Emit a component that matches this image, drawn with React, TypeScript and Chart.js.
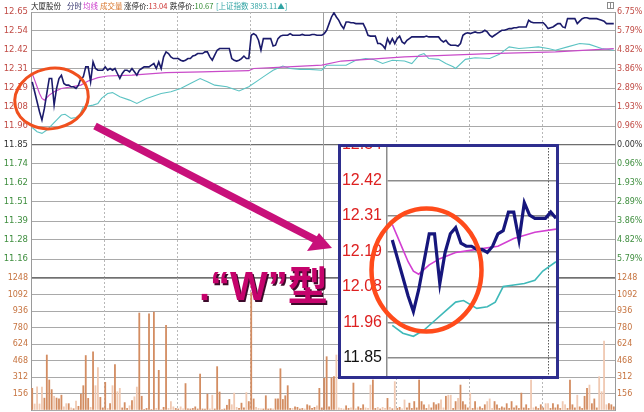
import React, { useEffect, useRef } from 'react';
import { Chart, registerables } from 'chart.js';

Chart.register(...registerables);

// ---------- data ----------
const prevClose = 11.85;
const pctTicks = [6.75, 5.79, 4.82, 3.86, 2.89, 1.93, 0.96, 0, -0.96, -1.93, -2.89, -3.86, -4.82, -5.79, -6.75];
const volumeTicks = [0, 156, 312, 468, 624, 780, 936, 1092, 1248];
const timeGrid = [30, 60, 90, 120, 150, 180, 210];

const price = [
  12.23, 12.17, 12.11, 12.05, 12.0, 12.07, 12.16, 12.25, 12.25, 12.09,
  12.19, 12.25, 12.27, 12.22, 12.21, 12.21, 12.2, 12.2, 12.19, 12.21,
  12.25, 12.26, 12.32, 12.32, 12.23, 12.35, 12.31, 12.3, 12.3, 12.3,
  12.32, 12.3, 12.31, 12.3, 12.31, 12.28, 12.25, 12.28, 12.3, 12.3,
  12.29, 12.31, 12.29, 12.27, 12.3, 12.31, 12.32, 12.32, 12.32, 12.33,
  12.34, 12.31, 12.35, 12.31, 12.38, 12.41, 12.4, 12.38, 12.37, 12.37,
  12.37, 12.36, 12.355, 12.36, 12.37, 12.37, 12.385, 12.39, 12.4, 12.4,
  12.4, 12.41, 12.41, 12.38, 12.36, 12.39, 12.42, 12.43, 12.43, 12.43,
  12.43, 12.43, 12.37, 12.36, 12.355, 12.36, 12.37, 12.385, 12.37, 12.37,
  12.51, 12.52, 12.51, 12.48, 12.42, 12.49, 12.49, 12.49, 12.49, 12.445,
  12.45, 12.49, 12.505, 12.51, 12.51, 12.51, 12.52, 12.51, 12.51, 12.51,
  12.51, 12.515, 12.51, 12.51, 12.51, 12.515, 12.515, 12.51, 12.51, 12.51,
  12.52, 12.54, 12.58, 12.62, 12.645, 12.62, 12.6, 12.57, 12.55, 12.59,
  12.59, 12.585, 12.585, 12.58, 12.58, 12.58, 12.58, 12.55, 12.51, 12.505,
  12.505, 12.505, 12.46, 12.46, 12.45, 12.43, 12.49, 12.46, 12.49, 12.46,
  12.49, 12.505, 12.47, 12.46, 12.48, 12.49, 12.5, 12.5, 12.5, 12.5,
  12.5, 12.5, 12.505, 12.5, 12.5, 12.5, 12.5, 12.5, 12.48, 12.47,
  12.48, 12.46, 12.45, 12.45, 12.45, 12.445, 12.46, 12.51, 12.52, 12.525,
  12.52, 12.525, 12.53, 12.525, 12.525, 12.53, 12.54, 12.53, 12.51, 12.5,
  12.51, 12.52, 12.53, 12.54, 12.54, 12.545, 12.55, 12.55, 12.555, 12.555,
  12.56, 12.56, 12.56, 12.56, 12.6, 12.59, 12.585, 12.585, 12.585, 12.585,
  12.585, 12.57, 12.55, 12.555, 12.56, 12.57, 12.58, 12.58, 12.56, 12.555,
  12.61, 12.61, 12.61, 12.61, 12.58, 12.595, 12.61, 12.615, 12.615, 12.61,
  12.61, 12.61, 12.61, 12.605, 12.6, 12.595, 12.58, 12.58, 12.58, 12.58,
];

const volume = [
  205, 57, 220, 57, 217, 112, 520, 284, 193, 130,
  113, 105, 140, 30, 60, 60, 20, 12, 85, 35,
  150, 230, 515, 110, 25, 550, 230, 400, 120, 20,
  262, 15, 60, 230, 430, 173, 205, 20, 70, 15,
  40, 90, 125, 217, 917, 130, 5, 15, 910, 5,
  925, 15, 375, 5, 25, 800, 15, 80, 30, 15,
  10, 30, 10, 250, 10, 10, 15, 30, 10, 340,
  10, 8, 150, 10, 140, 10, 410, 170, 5, 10,
  45, 100, 50, 160, 25, 15, 65, 20, 165, 80,
  1110, 105, 25, 15, 10, 10, 135, 10, 12, 10,
  105, 105, 390, 100, 135, 230, 15, 15, 30, 25,
  10, 15, 10, 50, 40, 15, 25, 40, 205, 20,
  300, 504, 30, 303, 315, 520, 20, 15, 10, 40,
  15, 20, 255, 12, 30, 15, 50, 20, 15, 236,
  284, 15, 25, 10, 25, 15, 110, 25, 12, 268,
  15, 25, 10, 95, 20, 65, 15, 80, 20, 284,
  80, 50, 15, 50, 20, 70, 50, 60, 95, 20,
  130, 140, 140, 15, 80, 110, 236, 80, 50, 20,
  160, 15, 80, 20, 30, 15, 50, 80, 105, 15,
  80, 50, 15, 30, 20, 60, 15, 80, 20, 40,
  15, 160, 20, 50, 15, 284, 20, 30, 15, 50,
  20, 60, 60, 15, 60, 20, 50, 15, 80, 50,
  15, 284, 50, 20, 140, 30, 15, 130, 205, 236,
  60, 105, 20, 315, 173, 652, 50, 60, 50, 30,
];

const avgTimes = [0, 1, 2, 3, 4, 5, 7, 9, 12, 16, 20, 23, 27, 31, 41, 55, 70, 89, 91, 105, 119, 127, 153, 188, 215, 239];
const avgValues = [12.28, 12.24, 12.2, 12.16, 12.13, 12.12, 12.15, 12.17, 12.19, 12.2, 12.21, 12.235, 12.255, 12.265, 12.27, 12.285, 12.29, 12.297, 12.31, 12.32, 12.33, 12.355, 12.38, 12.4, 12.41, 12.43];

const indexTimes = [
  0, 2, 4, 6, 8, 10, 12, 13.5, 16, 18, 19.5, 21, 23, 25, 27, 28.5, 31, 33, 36, 40,
  43, 47, 50, 53, 57, 61, 65, 69, 72, 75, 80, 85, 89, 93, 96, 99, 103, 106, 110, 114,
  119, 121, 126, 129, 133, 137, 140, 144, 148, 153, 156, 159, 161, 163, 167, 170, 173, 174, 178, 182,
  188, 192, 196, 200, 204, 208, 212, 215, 220, 225, 229, 234, 239,
];
const indexValues = [
  11.955, 11.93, 11.92, 11.94, 11.97, 12.0, 12.03, 12.035, 12.01, 12.015, 12.03, 12.08, 12.085, 12.09, 12.1, 12.13, 12.16, 12.165, 12.14, 12.12,
  12.1, 12.13, 12.145, 12.16, 12.17, 12.19, 12.22, 12.25, 12.23, 12.21, 12.2, 12.175, 12.2, 12.24, 12.27, 12.3, 12.325, 12.31, 12.305, 12.305,
  12.3, 12.33, 12.33, 12.33, 12.36, 12.37, 12.365, 12.34, 12.36, 12.355, 12.34, 12.39, 12.4, 12.37, 12.365, 12.34, 12.32, 12.31, 12.365, 12.375,
  12.37, 12.395, 12.44, 12.43, 12.435, 12.44, 12.43, 12.42, 12.44, 12.46, 12.455, 12.43, 12.42,
];

// ---------- helpers ----------
const EPS = 1e-6;
const priceTickValues = pctTicks.map((p) => prevClose * (1 + p / 100));
const priceMin = prevClose * (1 - 0.0675);
const priceMax = prevClose * (1 + 0.0675);

const sideColor = (v: number, up: string, down: string, flat: string) =>
  v > prevClose + EPS ? up : v < prevClose - EPS ? down : flat;

const vGridPlugin = (solidAt: number | null, dash: number[], color: string, solidColor: string, values: number[]) => ({
  id: 'vgrid',
  beforeDatasetsDraw(chart: any) {
    const { ctx, chartArea, scales } = chart;
    const x = scales.x;
    ctx.save();
    values.forEach((t) => {
      const px = Math.round(x.getPixelForValue(t)) + 0.5;
      if (px < chartArea.left || px > chartArea.right) return;
      ctx.beginPath();
      const solid = solidAt !== null && t === solidAt;
      ctx.setLineDash(solid ? [] : dash);
      ctx.strokeStyle = solid ? solidColor : color;
      ctx.lineWidth = 1;
      ctx.moveTo(px, chartArea.top);
      ctx.lineTo(px, chartArea.bottom);
      ctx.stroke();
    });
    ctx.restore();
  },
});

const App = () => {
  const priceRef = useRef<HTMLCanvasElement>(null);
  const volRef = useRef<HTMLCanvasElement>(null);
  const insetRef = useRef<HTMLCanvasElement>(null);

  useEffect(() => {
    document.body.style.margin = '0';
    Chart.defaults.font.family = "'DejaVu Sans', sans-serif";

    const pricePts = price.map((v, i) => ({ x: i + 0.5, y: v }));
    const avgPts = avgTimes.map((t, k) => ({ x: t + 0.5, y: avgValues[k] }));
    const idxPts = indexTimes.map((t, k) => ({ x: t + 0.5, y: indexValues[k] }));
    const volPts = volume.map((v, i) => ({ x: i + 0.5, y: v }));
    const volColors = volume.map((_, i) => (i > 0 && price[i] < price[i - 1] ? '#f0c9b2' : '#d38d62'));

    const setPriceTicks = (s: any) => {
      s.ticks = priceTickValues.map((v) => ({ value: v }));
    };

    const priceChart = new Chart(priceRef.current!, {
      type: 'line',
      data: {
        datasets: [
          { data: pricePts, borderColor: '#1b1b6b', borderWidth: 1.6, pointRadius: 0, tension: 0 },
          { data: avgPts, borderColor: '#c94bc9', borderWidth: 1.2, pointRadius: 0, tension: 0 },
          { data: idxPts, borderColor: '#5cc3c3', borderWidth: 1.1, pointRadius: 0, tension: 0 },
        ],
      },
      options: {
        responsive: false,
        animation: false,
        events: [],
        layout: { padding: { top: 12, bottom: 12, left: 0, right: 0 } },
        plugins: { legend: { display: false }, tooltip: { enabled: false } },
        scales: {
          x: { type: 'linear', min: 0, max: 240, display: false },
          y: {
            position: 'left',
            min: priceMin,
            max: priceMax,
            afterBuildTicks: setPriceTicks,
            afterFit: (s: any) => { s.width = 31; },
            ticks: {
              padding: 3,
              autoSkip: false,
              font: { size: 8.5 },
              color: (c: any) => sideColor(c.tick.value, '#c14c46', '#3f8e3f', '#333333'),
              callback: (v: any) => (Math.abs(v - priceMin) < EPS ? '' : Number(v).toFixed(2)),
            },
            grid: {
              drawTicks: false,
              color: (c: any) => (c.tick && Math.abs(c.tick.value - prevClose) < EPS ? '#6e6e6e' : '#a9a9a9'),
              lineWidth: (c: any) => (c.tick && Math.abs(c.tick.value - prevClose) < EPS ? 1.3 : 1),
            },
            border: { color: '#9a9a9a', width: 1 },
          },
          yR: {
            position: 'right',
            min: priceMin,
            max: priceMax,
            afterBuildTicks: setPriceTicks,
            afterFit: (s: any) => { s.width = 29; },
            ticks: {
              padding: 2,
              autoSkip: false,
              font: { size: 8 },
              color: (c: any) => sideColor(c.tick.value, '#c14c46', '#3f8e3f', '#333333'),
              callback: (v: any) =>
                Math.abs(v - priceMin) < EPS ? '' : Math.abs((Number(v) / prevClose - 1) * 100).toFixed(2) + '%',
            },
            grid: { drawOnChartArea: false, drawTicks: false },
            border: { color: '#9a9a9a', width: 1 },
          },
        },
      } as any,
      plugins: [vGridPlugin(120, [2, 2], '#b8b8b8', '#a0a0a0', timeGrid)],
    });

    const setVolTicks = (s: any) => {
      s.ticks = volumeTicks.map((v) => ({ value: v }));
    };

    const volChart = new Chart(volRef.current!, {
      type: 'bar',
      data: {
        datasets: [
          { data: volPts, backgroundColor: volColors, borderWidth: 0, barThickness: 1.15 },
        ],
      },
      options: {
        responsive: false,
        animation: false,
        events: [],
        layout: { padding: { top: 14, bottom: 14, left: 0, right: 0 } },
        plugins: { legend: { display: false }, tooltip: { enabled: false } },
        scales: {
          x: { type: 'linear', min: 0, max: 240, offset: false, display: false },
          y: {
            position: 'left',
            min: 0,
            max: 1248,
            afterBuildTicks: setVolTicks,
            afterFit: (s: any) => { s.width = 31; },
            ticks: {
              padding: 3,
              autoSkip: false,
              font: { size: 8 },
              color: '#c6733f',
              callback: (v: any) => (Number(v) === 0 ? '' : String(v)),
            },
            grid: {
              drawTicks: false,
              color: (c: any) => (c.tick && c.tick.value === 1248 ? '#707070' : '#a9a9a9'),
              lineWidth: (c: any) => (c.tick && c.tick.value === 1248 ? 1.3 : 1),
            },
            border: { color: '#9a9a9a', width: 1 },
          },
          yR: {
            position: 'right',
            min: 0,
            max: 1248,
            afterBuildTicks: setVolTicks,
            afterFit: (s: any) => { s.width = 29; },
            ticks: {
              padding: 2,
              autoSkip: false,
              font: { size: 8 },
              color: '#c6733f',
              callback: (v: any) => (Number(v) === 0 ? '' : String(v)),
            },
            grid: { drawOnChartArea: false, drawTicks: false },
            border: { color: '#9a9a9a', width: 1 },
          },
        },
      } as any,
      plugins: [vGridPlugin(120, [2, 2], '#b8b8b8', '#a0a0a0', timeGrid)],
    });

    const insetMax = prevClose * (1 + 5.79 / 100);
    const insetMin = 11.792;
    const insetChart = new Chart(insetRef.current!, {
      type: 'line',
      data: {
        datasets: [
          { data: pricePts, borderColor: '#16167c', borderWidth: 3.2, pointRadius: 0, tension: 0 },
          { data: avgPts, borderColor: '#d23fd2', borderWidth: 1.6, pointRadius: 0, tension: 0 },
          { data: idxPts, borderColor: '#3fb9b9', borderWidth: 1.6, pointRadius: 0, tension: 0 },
        ],
      },
      options: {
        responsive: false,
        animation: false,
        events: [],
        layout: { padding: { top: 16, bottom: 18, left: 0, right: 3 } },
        plugins: { legend: { display: false }, tooltip: { enabled: false } },
        scales: {
          x: { type: 'linear', min: -0.5, max: 31.5, display: false },
          y: {
            position: 'left',
            min: insetMin,
            max: insetMax,
            afterBuildTicks: (s: any) => {
              s.ticks = priceTickValues
                .filter((v) => v >= insetMin - EPS && v <= insetMax + EPS)
                .map((v) => ({ value: v }));
            },
            afterFit: (s: any) => { s.width = 49; },
            ticks: {
              padding: 5,
              autoSkip: false,
              font: { family: "'Liberation Sans', Arial, sans-serif", size: 16 },
              color: (c: any) => sideColor(c.tick.value, '#dd2020', '#222222', '#111111'),
              callback: (v: any) => Number(v).toFixed(2),
            },
            grid: { drawTicks: false, color: '#8c8c8c', lineWidth: 1.5 },
            border: { color: '#8c8c8c', width: 1.5 },
          },
        },
      } as any,
      plugins: [vGridPlugin(null, [1.5, 1.5], '#5a5a5a', '#5a5a5a', [30])],
    });

    return () => {
      priceChart.destroy();
      volChart.destroy();
      insetChart.destroy();
    };
  }, []);

  const titleFont = "'Noto Sans CJK SC', sans-serif";
  const seg = (left: number, children: React.ReactNode) => (
    <span style={{ position: 'absolute', left, top: 0, whiteSpace: 'nowrap' }}>{children}</span>
  );

  return (
    <div style={{ position: 'absolute', left: 0, top: 0, width: 644, height: 412, overflow: 'hidden', background: '#ffffff' }}>
      <canvas ref={priceRef} width={644} height={290} style={{ position: 'absolute', left: 0, top: 0, width: 644, height: 290 }} />
      <canvas ref={volRef} width={644} height={160} style={{ position: 'absolute', left: 0, top: 264, width: 644, height: 160 }} />

      <div style={{ position: 'absolute', left: 0, top: 0, width: 644, height: 12, fontFamily: titleFont, fontSize: 7.5, lineHeight: '12px', color: '#1a1a1a' }}>
        {seg(31, <span>大厦股份</span>)}
        {seg(67, <span style={{ color: '#34346e' }}>分时</span>)}
        {seg(83, <span style={{ color: '#cc3ccc' }}>均线</span>)}
        {seg(100, <span style={{ color: '#d9782f' }}>成交量</span>)}
        {seg(124, <span>涨停价:<span style={{ color: '#cc3030' }}>13.04</span></span>)}
        {seg(170, <span>跌停价:<span style={{ color: '#2f8a2f' }}>10.67</span></span>)}
        {seg(216, <span style={{ color: '#2fa3a3' }}>[上证指数 3893.11▲]</span>)}
      </div>

      <div style={{ position: 'absolute', left: 338, top: 144, width: 221, height: 235, overflow: 'hidden', background: '#ffffff' }}>
        <canvas ref={insetRef} width={221} height={265} style={{ position: 'absolute', left: 0, top: -15, width: 221, height: 265 }} />
      </div>

      <div
        style={{
          position: 'absolute',
          left: 199,
          top: 266,
          fontFamily: "'Liberation Sans', 'Noto Sans CJK SC', sans-serif",
          fontWeight: 'bold',
          fontSize: 40,
          lineHeight: '40px',
          color: '#c5036c',
          whiteSpace: 'nowrap',
          textShadow: '1.5px 1.5px 0 #3c0a2a',
        }}
      >
        .“W”型
      </div>

      <svg width={644} height={412} style={{ position: 'absolute', left: 0, top: 0, pointerEvents: 'none' }}>
        <ellipse cx={51.5} cy={98.5} rx={37} ry={30} transform="rotate(-12 51.5 98.5)" fill="none" stroke="#f0501e" strokeWidth={3} />
        <line x1={95} y1={126} x2={316} y2={240} stroke="#c8107a" strokeWidth={7.5} />
        <polygon points="319,233 332,248 307,251" fill="#c8107a" />
        <rect x={339.5} y={145.5} width={218} height={232} fill="none" stroke="#2e2e8e" strokeWidth={3} />
        <ellipse cx={426.5} cy={270} rx={55} ry={61.5} fill="none" stroke="#ff4b1b" strokeWidth={4.5} />
        <rect x={607.5} y={2.5} width={6} height={6} fill="none" stroke="#8a8a8a" strokeWidth={1} />
        <line x1={610.5} y1={2.5} x2={610.5} y2={8.5} stroke="#8a8a8a" strokeWidth={1} />
      </svg>
    </div>
  );
};

export default App;
